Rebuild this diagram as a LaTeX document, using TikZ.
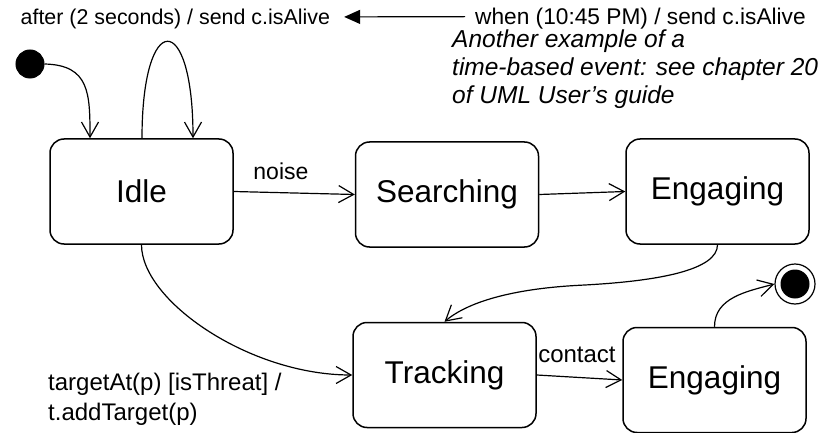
\documentclass[tikz,border=0pt]{standalone}
\usepackage{fontspec}
\setmainfont{Liberation Sans}
\usetikzlibrary{arrows.meta}
\begin{document}
\begin{tikzpicture}[x=1pt,y=1pt,
  statebox/.style={draw, line width=1.5pt, rounded corners=14pt,
    minimum width=183pt, minimum height=105pt, inner sep=0pt,
    font=\fontsize{31.5}{36}\selectfont},
  trans/.style={line width=1.2pt,
    -{Straight Barb[length=15pt,width=17pt,line width=1.2pt]}},
  lbl/.style={font=\fontsize{24}{30}\selectfont, inner sep=0pt},
  notetext/.style={font=\fontsize{24.5}{28}\selectfont\itshape, inner sep=0pt, align=left},
]
\useasboundingbox (0,0) rectangle (827,-433);

% states
\node[statebox] (idle)   at (141.5,-191.5) {Idle};
\node[statebox] (search) at (447,-194.5)   {Searching};
\node[statebox] (engA)   at (717.5,-191.5) {Engaging};
\node[statebox] (track)  at (444.5,-375)   {Tracking};
\node[statebox] (engB)   at (714.5,-380)   {Engaging};

% pseudo states
\node[circle, draw, fill=black, line width=1pt, minimum size=28pt, inner sep=0pt] (init) at (30,-64) {};
\node[circle, draw, line width=1.2pt, minimum size=40pt, inner sep=0pt] (final) at (795,-284) {};
\node[circle, fill=black, minimum size=29pt, inner sep=0pt] (finaldot) at (final.center) {};

% time events at the top
\node[lbl, font=\fontsize{21.4}{26}\selectfont, anchor=base west] (afterlbl) at (20.5,-25) {after (2 seconds) / send c.isAlive};
\node[lbl, font=\fontsize{22.7}{27}\selectfont, anchor=base west] (whenlbl)  at (475,-25) {when (10:45 PM) / send c.isAlive};
\draw[line width=1.2pt, -{Triangle[length=16pt,width=14pt]},
      shorten <=10pt, shorten >=14pt]
  ([yshift=2.5pt]whenlbl.west) -- ([yshift=2.5pt]afterlbl.east);
\node[notetext, anchor=base west] (note) at (452,-104)
  {Another example of a\\time-based event: see chapter 20\\of UML User’s guide};

% transitions
\draw[trans] (init.east) .. controls +(45,-1) and +(0,45) .. ([xshift=-51.5pt]idle.north);
\draw[trans] ([xshift=0.5pt]idle.north) .. controls +(0,129) and +(0,129) .. ([xshift=51.5pt]idle.north);
\draw[trans] (idle.east) -- (search.west)
  node[pos=0.39, anchor=base, yshift=13pt, lbl, font=\fontsize{23}{28}\selectfont] {noise};
\draw[trans] (search.east) -- (engA.west);
\draw[trans] (engA.south) .. controls +(0,-25) and +(80,4) .. ++(-137.5,-40.5)
  .. controls +(-60,-3) and +(26,22) .. (track.north);
\draw[trans] (idle.south) .. controls +(0,-56) and +(-103,0) .. (track.west);
\draw[trans] (track.east) -- (engB.west)
  node[pos=0.47, anchor=base, yshift=15pt, lbl] {contact};
\draw[trans] (engB.north) .. controls +(0,29) and +(-28,-7.5) .. (final.west);

% guard label of the Idle -> Tracking transition
\node[lbl, anchor=base west, align=left] (guardlbl) at (48,-420)
  {targetAt(p) [isThreat] /\\t.addTarget(p)};
\end{tikzpicture}
\end{document}
